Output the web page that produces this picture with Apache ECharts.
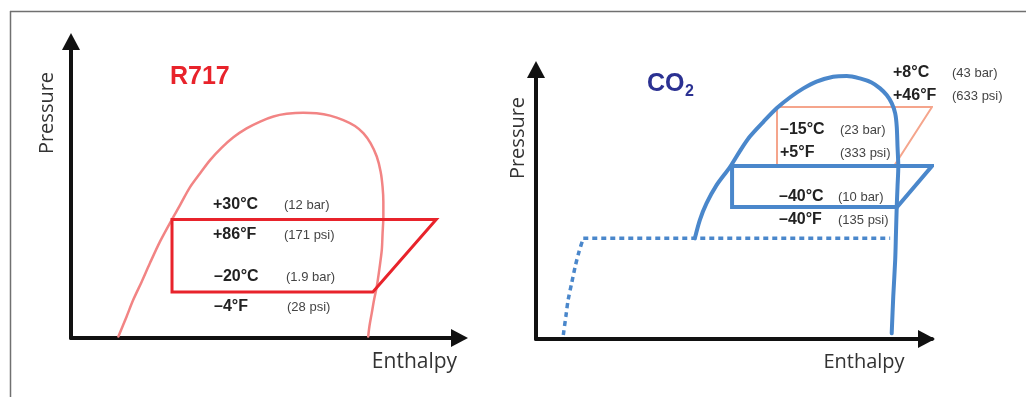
<!DOCTYPE html>
<html>
<head>
<meta charset="utf-8">
<script src="https://cdn.jsdelivr.net/npm/echarts@6/dist/echarts.min.js"></script>
<style>
html,body{margin:0;padding:0;background:#fff;}
#chart{width:1026px;height:397px;}
</style>
</head>
<body>
<div id="chart"></div>
<script>
// ---- Data (arbitrary enthalpy / pressure units per panel) ----
const r717Dome = [[12.2,0.5],[14.3,7.2],[16.0,12.8],[18.2,19.0],[20.3,25.2],[22.9,32.5],[25.9,39.8],[28.1,44.9],[30.6,50.8],[33.2,55.5],[35.8,60.0],[38.8,64.2],[41.8,67.7],[45.2,70.7],[48.7,73.0],[52.1,74.7],[55.5,75.6],[59.8,76.0],[63.2,75.8],[66.7,75.0],[70.1,73.5],[73.1,71.5],[75.3,69.0],[77.1,65.7],[78.7,61.2],[79.7,56.1],[80.2,51.0],[80.4,46.0],[80.4,40.9],[80.2,35.3],[80.0,29.7],[79.4,23.5],[78.7,17.3],[78.0,12.8],[77.4,8.3],[76.8,3.8],[76.5,0.5]];
const r717Cycle = [[26.0,40.0],[94.0,40.0],[77.7,15.5],[26.0,15.5],[26.0,40.0]];

const co2Dome = [[41.0,37.35],[42.3,44.2],[44.0,50.3],[46.6,57.1],[50.1,63.9],[52.7,69.9],[55.2,75.1],[58.7,80.6],[62.1,85.6],[65.6,89.7],[69.0,93.0],[72.4,95.5],[76.7,97.3],[80.2,97.6],[83.6,96.7],[86.6,95.2],[88.8,93.0],[90.5,90.5],[91.8,87.5],[92.7,83.7],[93.1,78.8],[93.3,71.4],[93.5,63.9],[93.3,56.5],[93.1,49.1],[92.9,39.2],[92.7,29.3],[92.2,15.7],[91.8,2.1]];
const co2SolidCurve = [[7.05,1.5],[7.7,8.3],[8.3,14.5],[9.2,20.7],[10.1,26.8],[11.1,32.4],[12.2,37.35]];
const co2SolidLine = [[12.2,37.35],[91.4,37.35]];
const co2LowCycle = [[50.6,64.2],[102.2,64.2],[93.2,49.0],[50.6,49.0],[50.6,64.2]];
const co2HighCycle = [[62.2,86.1],[102.2,86.1],[92.4,64.2],[62.2,64.2],[62.2,86.1]];

const r717Temps = ['+30°C','+86°F','–20°C','–4°F'];
const r717Press = ['(12 bar)','(171 psi)','(1.9 bar)','(28 psi)'];
const co2Temps = ['+8°C','+46°F','–15°C','+5°F','–40°C','–40°F'];
const co2Press = ['(43 bar)','(633 psi)','(23 bar)','(333 psi)','(10 bar)','(135 psi)'];

// ---- Styles / layout ----
const AX = '#111111';
const RED_DOME = '#f28484';
const RED = '#e8232b';
const BLUE = '#4a87cb';
const SALMON = '#f5a58c';
const BOLD = 'bold 16px "Liberation Sans", Arial, sans-serif';
const SMALL = '13px "Liberation Sans", Arial, sans-serif';
const AXNAME = '"Open Sans", "Noto Sans", sans-serif';

function axisLine(offsetEnd){
  return {show:true, onZero:false, symbol:['none','triangle'], symbolSize:[18,17], symbolOffset:[0, offsetEnd],
    lineStyle:{color:AX, width:4}};
}
function mkAxis(gridIndex, max, pos, offsetEnd){
  return {type:'value', gridIndex, min:0, max, position:pos, axisLine:axisLine(offsetEnd),
    axisTick:{show:false}, axisLabel:{show:false}, splitLine:{show:false}};
}

function lineSeries(idx, data, color, width, extra){
  return Object.assign({
    type:'line', xAxisIndex:idx, yAxisIndex:idx, data, showSymbol:false, symbol:'none',
    clip:false, silent:true, animation:false,
    lineStyle:{color, width, join:'miter', cap:'square'}
  }, extra||{});
}

function txt(x, y, text, font, fill, align){
  return {type:'text', x, y, z:100, silent:true,
    style:{text, font, fill, align:align||'left', verticalAlign:'middle'}};
}

const r717Pos = [[213,205],[213,235],[214,277],[214,307]];
const r717PPos = [[284,205],[284,235],[286,277],[287,307]];
const co2Pos = [[893,73],[893,96],[780,130],[780,153],[779,197],[779,220]];
const co2PPos = [[952,73],[952,96],[840,130],[840,153],[838,197],[838,220]];

const graphics = [
  {type:'line', silent:true, shape:{x1:10,y1:11.5,x2:1026,y2:11.5}, style:{stroke:'#707070', lineWidth:1.5}},
  {type:'line', silent:true, shape:{x1:10.5,y1:11,x2:10.5,y2:397}, style:{stroke:'#707070', lineWidth:1.5}},
  txt(170, 77, 'R717', 'bold 25px "Liberation Sans", Arial, sans-serif', RED),
  txt(647, 84, 'CO', 'bold 25px "Liberation Sans", Arial, sans-serif', '#2b3192'),
  txt(685, 92, '2', 'bold 16px "Liberation Sans", Arial, sans-serif', '#2b3192'),
  txt(414.5, 362.5, 'Enthalpy', '21px ' + AXNAME, '#333333', 'center'),
  txt(864, 362.5, 'Enthalpy', '20px ' + AXNAME, '#333333', 'center'),
  Object.assign(txt(47, 113, 'Pressure', '20px ' + AXNAME, '#333333', 'center'), {rotation:Math.PI/2}),
  Object.assign(txt(518, 138, 'Pressure', '20px ' + AXNAME, '#333333', 'center'), {rotation:Math.PI/2})
];
r717Temps.forEach((t,i)=>graphics.push(txt(r717Pos[i][0], r717Pos[i][1], t, BOLD, '#222222')));
r717Press.forEach((t,i)=>graphics.push(txt(r717PPos[i][0], r717PPos[i][1], t, SMALL, '#444444')));
co2Temps.forEach((t,i)=>graphics.push(txt(co2Pos[i][0], co2Pos[i][1], t, BOLD, '#222222')));
co2Press.forEach((t,i)=>graphics.push(txt(co2PPos[i][0], co2PPos[i][1], t, SMALL, '#444444')));

const chart = echarts.init(document.getElementById('chart'), null, {renderer:'canvas'});
chart.setOption({
  animation:false,
  backgroundColor:'#ffffff',
  grid:[
    {left:71, top:41.5, width:388.5, height:296.5, containLabel:false, outerBoundsMode:'none'},
    {left:536, top:69.5, width:396, height:269.5, containLabel:false, outerBoundsMode:'none'}
  ],
  xAxis:[mkAxis(0, 100, 'bottom', 0), mkAxis(1, 102.2, 'bottom', -5.5)],
  yAxis:[mkAxis(0, 100, 'left', 0), mkAxis(1, 100, 'left', 0)],
  series:[
    lineSeries(0, r717Dome, RED_DOME, 2.5, {smooth:0.3, lineStyle:{color:RED_DOME, width:2.5, cap:'round', join:'round'}}),
    lineSeries(0, r717Cycle, RED, 3),
    lineSeries(1, co2SolidCurve, BLUE, 3.5, {smooth:0.3, lineStyle:{color:BLUE, width:3.5, type:[5,4]}}),
    lineSeries(1, co2SolidLine, BLUE, 3.5, {lineStyle:{color:BLUE, width:3.5, type:[5,4]}}),
    lineSeries(1, co2HighCycle, SALMON, 2),
    lineSeries(1, co2Dome, BLUE, 4, {smooth:0.3, lineStyle:{color:BLUE, width:4, cap:'round', join:'round'}}),
    lineSeries(1, co2LowCycle, BLUE, 4)
  ],
  graphic:graphics
});
</script>
</body>
</html>
